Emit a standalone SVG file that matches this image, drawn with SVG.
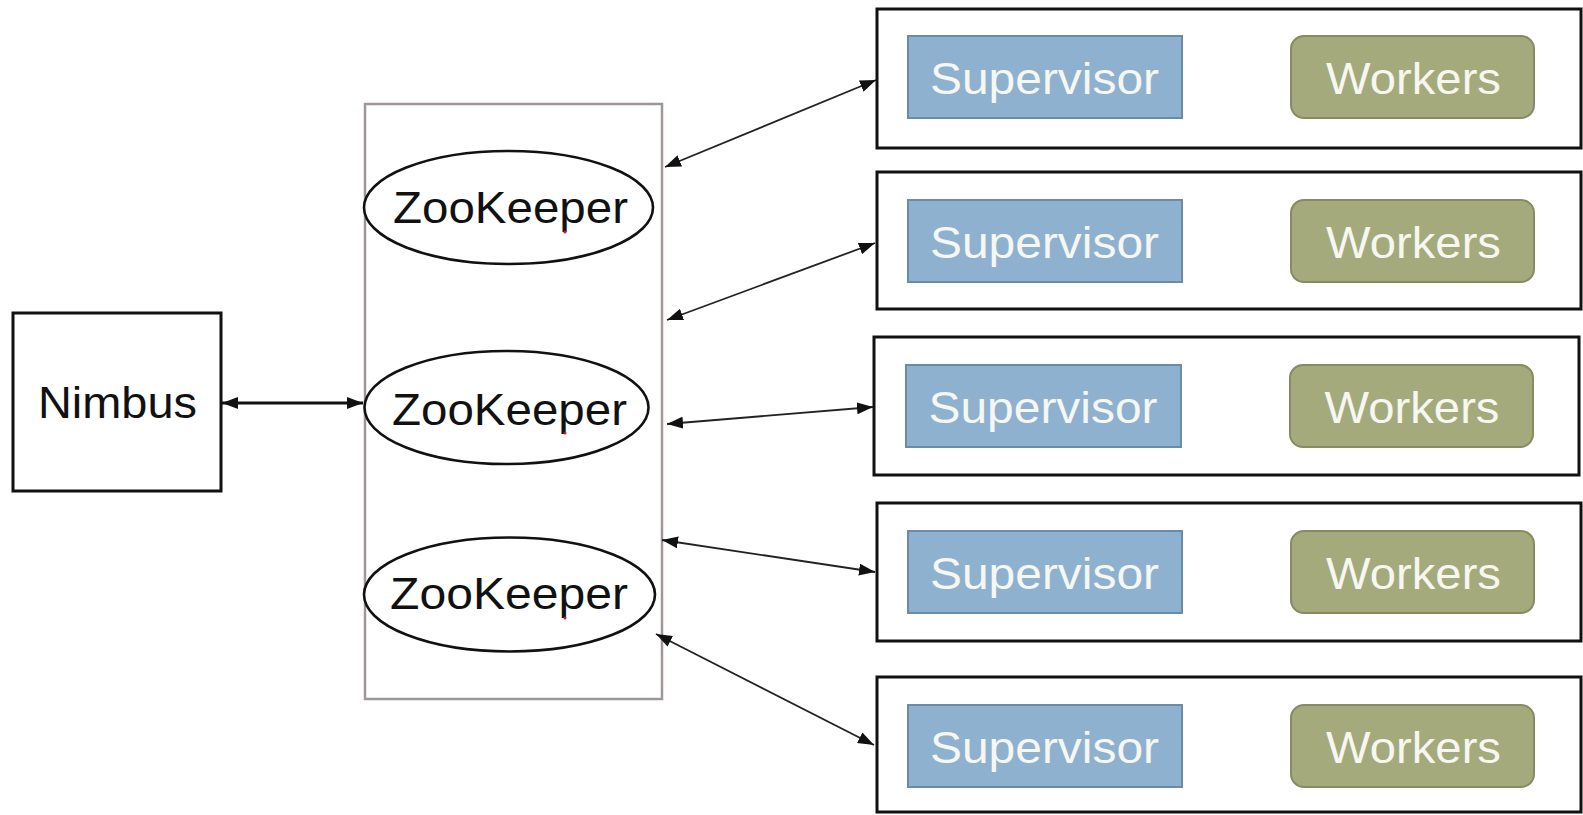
<svg xmlns="http://www.w3.org/2000/svg" width="1583" height="815" viewBox="0 0 1583 815">
<style>
.txt{font-family:"Liberation Sans",Arial,sans-serif;font-size:44px;text-anchor:middle}
.dark{fill:#111}
.light{fill:#f5f7f0}
.box{fill:#fff;stroke:#111;stroke-width:3}
.sup{fill:#8fb1d0;stroke:#6a8cab;stroke-width:2}
.wrk{fill:#a5aa7d;stroke:#868b63;stroke-width:2}
.zk{fill:#fff;stroke:#111;stroke-width:2.6}
.link{fill:none;stroke:#222;stroke-width:1.8;marker-start:url(#ah);marker-end:url(#ah)}
.dot{fill:#c0202a}
</style>
<defs>
<marker id="ah" viewBox="0 0 16 12" refX="16" refY="6" markerWidth="16" markerHeight="12" markerUnits="userSpaceOnUse" orient="auto-start-reverse">
<path d="M0,0 L16,6 L0,12 Z" fill="#111"/>
</marker>
<marker id="ah2" viewBox="0 0 16 12" refX="16" refY="6" markerWidth="16" markerHeight="12" markerUnits="userSpaceOnUse" orient="auto-start-reverse">
<path d="M0,0 L16,6 L0,12 Z" fill="#111"/>
</marker>
</defs>
<rect width="1583" height="815" fill="#fff"/>

<g id="zk-cluster">
<rect x="365" y="104" width="297" height="595" fill="#fff" stroke="#a09696" stroke-width="2.5"/>
</g>

<g id="nimbus">
<rect class="box" x="13" y="313" width="208" height="178"/>
<text class="txt dark" x="117.5" y="418" textLength="159" lengthAdjust="spacingAndGlyphs">Nimbus</text>
</g>

<g id="zookeeper1">
<ellipse class="zk" cx="508.5" cy="207.5" rx="144.5" ry="56.5"/>
<text class="txt dark" x="510.5" y="223" textLength="235" lengthAdjust="spacingAndGlyphs">ZooKeeper</text>
<circle class="dot" cx="565" cy="232" r="1.5"/>
</g>
<g id="zookeeper2">
<ellipse class="zk" cx="506.5" cy="407.5" rx="142" ry="56.5"/>
<text class="txt dark" x="509.5" y="425" textLength="235" lengthAdjust="spacingAndGlyphs">ZooKeeper</text>
<circle class="dot" cx="565" cy="433" r="1.5"/>
</g>
<g id="zookeeper3">
<ellipse class="zk" cx="509.5" cy="594.5" rx="145.5" ry="57"/>
<text class="txt dark" x="509" y="609" textLength="238" lengthAdjust="spacingAndGlyphs">ZooKeeper</text>
<circle class="dot" cx="565" cy="618" r="1.5"/>
</g>

<g id="node1">
<rect class="box" x="877" y="9" width="704" height="139"/>
<rect class="sup" x="908" y="36" width="274" height="82"/>
<text class="txt light" x="1044.5" y="94" textLength="229" lengthAdjust="spacingAndGlyphs">Supervisor</text>
<rect class="wrk" x="1291" y="36" width="243" height="82" rx="13"/>
<text class="txt light" x="1413.5" y="94" textLength="175" lengthAdjust="spacingAndGlyphs">Workers</text>
</g>
<g id="node2">
<rect class="box" x="877" y="172" width="704" height="137"/>
<rect class="sup" x="908" y="200" width="274" height="82"/>
<text class="txt light" x="1044.5" y="258" textLength="229" lengthAdjust="spacingAndGlyphs">Supervisor</text>
<rect class="wrk" x="1291" y="200" width="243" height="82" rx="13"/>
<text class="txt light" x="1413.5" y="258" textLength="175" lengthAdjust="spacingAndGlyphs">Workers</text>
</g>
<g id="node3">
<rect class="box" x="874" y="337" width="705" height="138"/>
<rect class="sup" x="906" y="365" width="275" height="82"/>
<text class="txt light" x="1043" y="423" textLength="229" lengthAdjust="spacingAndGlyphs">Supervisor</text>
<rect class="wrk" x="1290" y="365" width="243" height="82" rx="13"/>
<text class="txt light" x="1412" y="423" textLength="175" lengthAdjust="spacingAndGlyphs">Workers</text>
</g>
<g id="node4">
<rect class="box" x="877" y="503" width="704" height="138"/>
<rect class="sup" x="908" y="531" width="274" height="82"/>
<text class="txt light" x="1044.5" y="589" textLength="229" lengthAdjust="spacingAndGlyphs">Supervisor</text>
<rect class="wrk" x="1291" y="531" width="243" height="82" rx="13"/>
<text class="txt light" x="1413.5" y="589" textLength="175" lengthAdjust="spacingAndGlyphs">Workers</text>
</g>
<g id="node5">
<rect class="box" x="877" y="677" width="704" height="135"/>
<rect class="sup" x="908" y="705" width="274" height="82"/>
<text class="txt light" x="1044.5" y="763" textLength="229" lengthAdjust="spacingAndGlyphs">Supervisor</text>
<rect class="wrk" x="1291" y="705" width="243" height="82" rx="13"/>
<text class="txt light" x="1413.5" y="763" textLength="175" lengthAdjust="spacingAndGlyphs">Workers</text>
</g>

<g id="connectors">
<line x1="222" y1="403" x2="363" y2="403" stroke="#111" stroke-width="2.8" marker-start="url(#ah2)" marker-end="url(#ah2)"/>
<line class="link" x1="665" y1="167" x2="876" y2="80"/>
<line class="link" x1="667" y1="320" x2="875" y2="243"/>
<line class="link" x1="667" y1="424" x2="873" y2="407"/>
<line class="link" x1="662" y1="540" x2="875" y2="572"/>
<line class="link" x1="656" y1="634" x2="874" y2="745"/>
</g>
</svg>
